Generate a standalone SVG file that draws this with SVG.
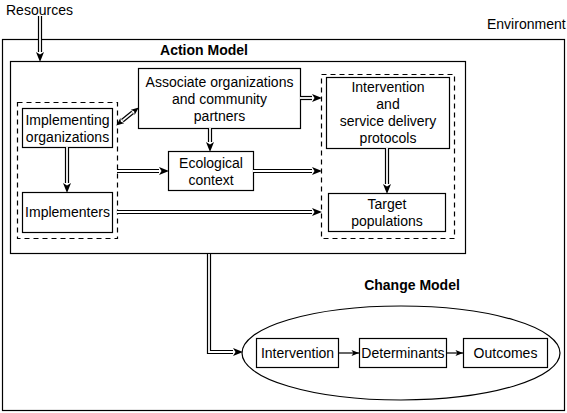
<svg xmlns="http://www.w3.org/2000/svg" width="567" height="413" viewBox="0 0 567 413">
<style>
  .box{fill:#fff;stroke:#000;stroke-width:1.2}
  .frame{fill:none;stroke:#000;stroke-width:1.2}
  .dash{fill:none;stroke:#000;stroke-width:1.2;stroke-dasharray:5,4}
  .t{font-family:"Liberation Sans",Arial,sans-serif;font-size:14px;fill:#000;text-anchor:middle}
  .b{font-weight:bold}
  .l{text-anchor:start}
  .o{fill:none;stroke:#000;stroke-width:4.2;stroke-linejoin:miter}
  .i{fill:none;stroke:#fff;stroke-width:1.8;stroke-linejoin:miter}
  .s{fill:none;stroke:#000;stroke-width:1.2}
</style>
<defs>
  <marker id="ah" viewBox="0 0 10 8" refX="0" refY="4" markerWidth="10" markerHeight="8" markerUnits="userSpaceOnUse" orient="auto">
    <path d="M0,0 L10,4 L0,8 L2.5,4 z" fill="#000"/>
  </marker>
  <marker id="ahb" viewBox="0 0 10 8" refX="0" refY="4" markerWidth="8" markerHeight="7" markerUnits="userSpaceOnUse" orient="auto-start-reverse">
    <path d="M0,0 L10,4 L0,8 L2.5,4 z" fill="#000"/>
  </marker>
  <marker id="sa" viewBox="0 0 10 8" refX="10" refY="4" markerWidth="8" markerHeight="6" markerUnits="userSpaceOnUse" orient="auto">
    <path d="M0,0 L10,4 L0,8 L2.5,4 z" fill="#000"/>
  </marker>
</defs>

<g id="environment">
  <rect class="frame" x="2.5" y="39.5" width="562" height="371"/>
  <text class="t l" x="487" y="29">Environment</text>
</g>
<g id="resources">
  <text class="t l" x="6" y="15">Resources</text>
</g>
<g id="action-model">
  <rect class="frame" x="10.5" y="61.5" width="455" height="192"/>
  <text class="t b" x="204" y="55">Action Model</text>
</g>
<g id="left-group">
  <rect class="dash" x="17.5" y="102.5" width="100" height="136"/>
</g>
<g id="right-group">
  <rect class="dash" x="321.5" y="74.5" width="133" height="164"/>
</g>
<g id="implementing-organizations">
  <rect class="box" x="22.5" y="108.5" width="90" height="39"/>
  <text class="t" x="67.5" y="125">Implementing</text>
  <text class="t" x="67.5" y="142">organizations</text>
</g>
<g id="implementers">
  <rect class="box" x="22.5" y="192.5" width="90" height="40"/>
  <text class="t" x="67.5" y="217">Implementers</text>
</g>
<g id="associate-organizations">
  <rect class="box" x="138.5" y="68.5" width="162" height="60"/>
  <text class="t" x="219.5" y="87">Associate organizations</text>
  <text class="t" x="219.5" y="104">and community</text>
  <text class="t" x="219.5" y="121">partners</text>
</g>
<g id="ecological-context">
  <rect class="box" x="168.5" y="151.5" width="85" height="39"/>
  <text class="t" x="211" y="168">Ecological</text>
  <text class="t" x="211" y="185">context</text>
</g>
<g id="intervention-protocols">
  <rect class="box" x="326.5" y="77.5" width="123" height="71"/>
  <text class="t" x="388" y="92">Intervention</text>
  <text class="t" x="388" y="109">and</text>
  <text class="t" x="388" y="126">service delivery</text>
  <text class="t" x="388" y="143">protocols</text>
</g>
<g id="target-populations">
  <rect class="box" x="328.5" y="193.5" width="117" height="38"/>
  <text class="t" x="387" y="209">Target</text>
  <text class="t" x="387" y="226">populations</text>
</g>
<g id="change-model">
  <ellipse class="frame" cx="401" cy="353" rx="159" ry="47"/>
  <text class="t b" x="412" y="290">Change Model</text>
</g>
<g id="cm-intervention">
  <rect class="box" x="256.5" y="338.5" width="82" height="29"/>
  <text class="t" x="297.5" y="358">Intervention</text>
</g>
<g id="cm-determinants">
  <rect class="box" x="359.5" y="338.5" width="87" height="29"/>
  <text class="t" x="403" y="358">Determinants</text>
</g>
<g id="cm-outcomes">
  <rect class="box" x="463.5" y="338.5" width="84" height="29"/>
  <text class="t" x="505.5" y="358">Outcomes</text>
</g>

<g id="connectors">
  <path class="o" d="M40,16 V52" marker-end="url(#ah)"/><path class="i" d="M40,16 V52"/>
  <path class="o" d="M300,98 H312" marker-end="url(#ah)"/><path class="i" d="M300,98 H312"/>
  <path class="o" d="M122.4,120.6 L132.6,112.4" marker-start="url(#ahb)" marker-end="url(#ahb)"/><path class="i" d="M122.4,120.6 L132.6,112.4"/>
  <path class="o" d="M210,128 V142" marker-end="url(#ah)"/><path class="i" d="M210,128 V142"/>
  <path class="o" d="M67,147 V183" marker-end="url(#ah)"/><path class="i" d="M67,147 V183"/>
  <path class="o" d="M117,171 H159" marker-end="url(#ah)"/><path class="i" d="M117,171 H159"/>
  <path class="o" d="M253,171 H312" marker-end="url(#ah)"/><path class="i" d="M253,171 H312"/>
  <path class="o" d="M117,212 H312" marker-end="url(#ah)"/><path class="i" d="M117,212 H312"/>
  <path class="o" d="M387,148 V184" marker-end="url(#ah)"/><path class="i" d="M387,148 V184"/>
  <path class="o" d="M209,254 V352 H233" marker-end="url(#ah)"/><path class="i" d="M209,254 V352 H233"/>
  <path class="s" d="M338.5,353 H359" marker-end="url(#sa)"/>
  <path class="s" d="M446.5,353 H463" marker-end="url(#sa)"/>
</g>
</svg>
